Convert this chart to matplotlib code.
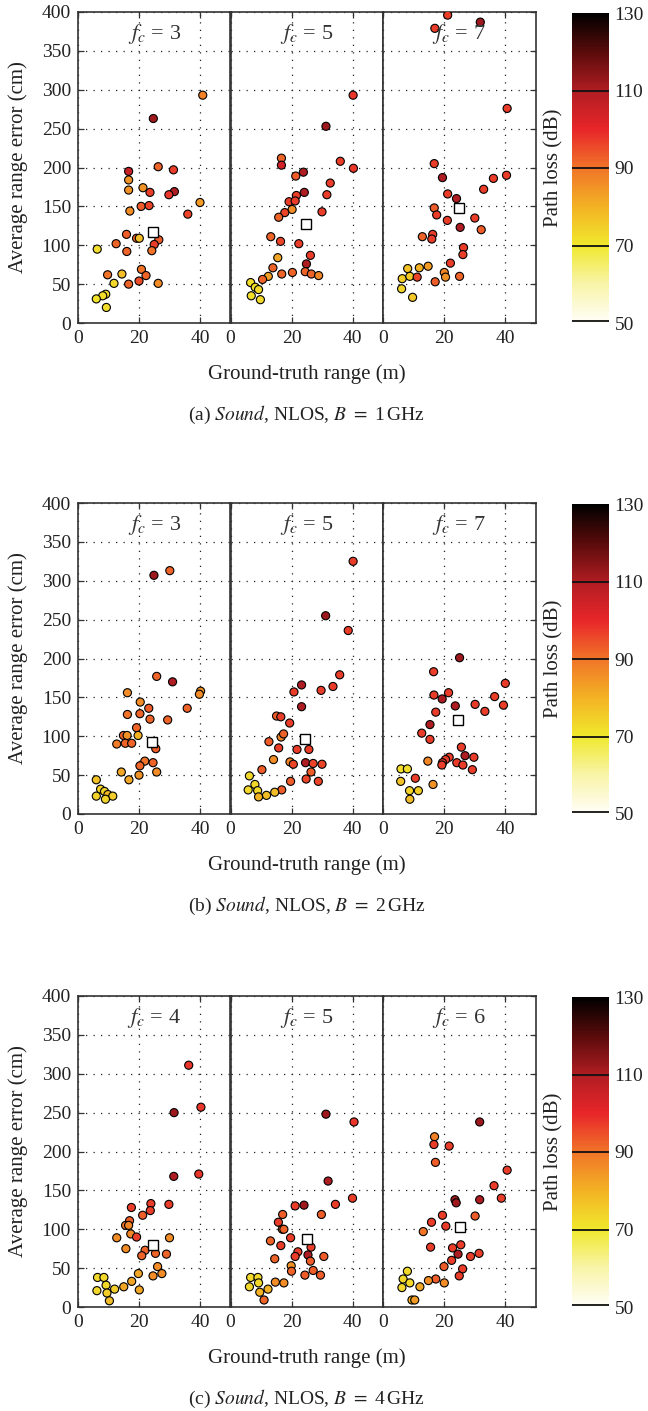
import matplotlib
matplotlib.use("Agg")
import matplotlib.pyplot as plt
from matplotlib.colors import LinearSegmentedColormap, Normalize
from matplotlib.cm import ScalarMappable

plt.rcParams['font.family'] = ['Liberation Serif', 'DejaVu Serif']
plt.rcParams['mathtext.fontset'] = 'stix'

# ---- (a) B = 1 GHz ----
a3_x = [40.9, 24.7, 26.3, 31.3, 16.6, 16.6, 16.6, 21.3, 23.6, 31.6, 29.8, 40.0, 20.7, 23.3,
        17.0, 36.0, 15.9, 19.2, 20.1, 26.5, 25.0, 24.2, 12.5, 6.3, 16.0, 20.8, 22.3, 14.4,
        9.7, 11.8, 16.6, 20.0, 26.3, 9.1, 8.1, 6.0, 9.3]
a3_y = [293, 263, 201, 197, 195, 184, 171, 174, 168, 169, 165, 155, 150, 151,
        144, 140, 114, 109, 109, 107, 101, 93, 102, 95, 92, 69, 61, 63,
        62, 51, 50, 54, 51, 37, 35, 31, 20]
a3_pl = [88, 112, 92, 97, 106, 85, 85, 85, 97, 110, 98, 84, 93, 96,
         86, 96, 93, 92, 78, 93, 97, 90, 92, 72, 92, 90, 92, 78,
         90, 73, 92, 95, 86, 72, 72, 71, 72]

a5_x = [40.2, 31.3, 16.7, 16.7, 36.0, 40.3, 23.9, 21.4, 32.7, 24.2, 21.6, 31.6, 19.2, 21.2,
        20.2, 17.8, 15.8, 30.0, 13.2, 16.4, 22.4, 26.2, 15.5, 24.9, 13.9, 12.4, 10.5, 16.8,
        20.3, 24.5, 26.5, 28.9, 6.6, 8.1, 9.2, 6.8, 9.8]
a5_y = [293, 253, 212, 203, 208, 199, 194, 189, 180, 168, 164, 165, 156, 157,
        146, 142, 136, 143, 111, 105, 102, 87, 84, 76, 71, 60, 56, 63,
        65, 66, 63, 61, 52, 46, 43, 35, 30]
a5_pl = [98, 112, 92, 104, 97, 98, 110, 93, 97, 110, 97, 97, 97, 97,
         86, 96, 92, 97, 92, 96, 97, 97, 82, 110, 92, 83, 92, 92,
         92, 92, 92, 87, 72, 72, 73, 72, 73]

a7_x = [21.2, 31.9, 17.0, 40.7, 16.8, 19.5, 40.5, 36.2, 33.0, 21.2, 24.1, 16.8, 17.6, 21.1,
        30.1, 25.3, 32.2, 12.9, 16.3, 16.0, 26.4, 26.2, 22.1, 8.1, 11.9, 14.8, 6.3, 8.8,
        11.2, 20.1, 20.5, 17.1, 25.1, 6.1, 9.7]
a7_y = [396, 387, 379, 276, 205, 187, 190, 186, 172, 166, 160, 148, 139, 132,
        135, 123, 120, 111, 114, 108, 97, 88, 77, 70, 71, 73, 57, 60,
        59, 65, 59, 53, 60, 44, 33]
a7_pl = [97, 112, 97, 97, 97, 110, 97, 97, 97, 97, 110, 93, 97, 97,
         97, 110, 93, 92, 97, 97, 97, 97, 97, 77, 80, 84, 75, 75,
         96, 87, 85, 93, 92, 74, 76]

# ---- (b) B = 2 GHz ----
b3_x = [24.9, 30.1, 25.8, 31.0, 16.2, 40.2, 39.8, 20.4, 23.2, 35.8, 16.2, 20.3, 23.6, 29.4,
        19.2, 14.9, 16.1, 19.7, 12.7, 15.5, 17.6, 25.5, 21.9, 20.3, 24.6, 14.2, 25.8, 20.0,
        16.7, 6.0, 7.4, 8.7, 9.8, 11.4, 6.0, 9.0]
b3_y = [307, 313, 177, 170, 156, 158, 154, 144, 136, 136, 128, 129, 122, 121,
        111, 101, 101, 101, 90, 91, 91, 84, 68, 62, 66, 54, 54, 50,
        44, 44, 32, 29, 25, 23, 23, 19]
b3_pl = [112, 92, 92, 110, 86, 85, 86, 86, 93, 92, 90, 92, 92, 92,
         92, 92, 85, 80, 89, 92, 92, 93, 90, 92, 92, 82, 86, 85,
         82, 77, 74, 74, 79, 75, 74, 74]

b5_x = [40.2, 31.2, 38.6, 35.8, 23.3, 20.8, 29.7, 33.6, 23.3, 15.1, 16.5, 19.4, 12.6, 16.6,
        17.4, 15.8, 21.8, 25.7, 14.1, 19.5, 20.6, 24.6, 27.1, 30.0, 10.3, 26.4, 24.8, 19.7,
        28.8, 6.2, 8.0, 16.8, 8.9, 5.8, 14.5, 11.8, 9.2]
b5_y = [325, 255, 236, 179, 166, 157, 159, 164, 138, 126, 125, 117, 93, 99,
        103, 85, 83, 83, 70, 67, 64, 66, 65, 64, 57, 54, 45, 42,
        42, 49, 38, 31, 30, 31, 28, 24, 22]
b5_pl = [97, 112, 97, 97, 110, 97, 97, 97, 110, 93, 97, 97, 93, 87,
         92, 97, 97, 97, 86, 87, 96, 110, 96, 96, 93, 93, 96, 93,
         96, 73, 73, 93, 73, 73, 78, 78, 80]

b7_x = [25.1, 16.6, 40.1, 16.7, 21.5, 19.4, 36.6, 30.2, 39.5, 23.7, 17.3, 33.4, 15.4, 12.7,
        15.4, 25.7, 26.9, 29.8, 21.7, 20.5, 19.5, 19.3, 14.7, 24.2, 26.2, 29.3, 10.6, 5.9,
        8.0, 5.8, 16.4, 8.7, 11.6, 8.8]
b7_y = [201, 183, 168, 153, 156, 148, 151, 141, 140, 139, 131, 132, 115, 104,
        96, 86, 75, 73, 73, 70, 66, 63, 68, 66, 63, 57, 46, 58,
        58, 42, 38, 30, 30, 19]
b7_pl = [112, 97, 97, 97, 97, 110, 97, 97, 97, 110, 97, 97, 110, 97,
         97, 97, 110, 97, 97, 97, 97, 97, 87, 97, 97, 97, 97, 72,
         72, 77, 85, 74, 75, 78]

# ---- (c) B = 4 GHz ----
c4_x = [36.3, 40.3, 31.5, 31.4, 39.6, 23.9, 29.8, 17.5, 23.7, 21.2, 16.9, 15.6, 16.6, 17.3,
        19.2, 12.7, 30.0, 15.7, 22.0, 20.9, 25.4, 29.0, 26.1, 27.5, 24.6, 19.8, 17.6, 15.0,
        20.1, 6.4, 8.5, 9.2, 6.2, 9.5, 12.0, 10.3]
c4_y = [311, 257, 250, 168, 171, 133, 132, 128, 124, 118, 111, 105, 105, 94,
        90, 89, 89, 75, 73, 66, 69, 68, 52, 43, 40, 43, 33, 26,
        22, 38, 38, 28, 21, 18, 23, 8]
c4_pl = [98, 98, 112, 110, 98, 97, 97, 97, 97, 93, 93, 90, 87, 87,
         97, 86, 86, 86, 92, 92, 92, 92, 86, 86, 86, 82, 82, 82,
         82, 73, 73, 73, 73, 75, 75, 78]

c5_x = [31.3, 40.5, 32.0, 40.0, 34.4, 24.1, 21.2, 29.8, 17.1, 15.7, 17.0, 17.5, 13.1, 19.7,
        16.5, 26.4, 22.1, 25.4, 21.2, 30.6, 14.5, 26.2, 19.9, 20.0, 27.1, 29.5, 24.4, 14.7,
        17.5, 6.6, 9.0, 9.2, 6.2, 12.3, 9.6, 11.0]
c5_y = [248, 238, 162, 140, 132, 131, 130, 119, 119, 109, 100, 100, 85, 89,
        79, 77, 71, 67, 65, 65, 62, 59, 53, 46, 47, 41, 41, 32,
        31, 38, 38, 31, 26, 23, 19, 9]
c5_pl = [112, 98, 110, 97, 97, 112, 97, 93, 93, 97, 87, 92, 92, 97,
         97, 97, 97, 110, 97, 93, 92, 93, 85, 92, 93, 93, 93, 86,
         86, 73, 73, 73, 73, 80, 80, 92]

c6_x = [31.7, 16.9, 16.7, 21.7, 17.2, 40.7, 36.4, 38.8, 31.7, 23.6, 24.0, 30.2, 19.5, 15.9,
        20.6, 13.2, 15.6, 22.8, 25.5, 24.6, 28.7, 31.5, 22.5, 26.1, 20.0, 25.0, 17.3, 14.9,
        20.1, 12.1, 8.0, 6.6, 8.8, 6.2, 9.5, 10.4]
c6_y = [238, 219, 209, 207, 186, 176, 156, 140, 138, 138, 134, 117, 118, 109,
        104, 97, 77, 76, 80, 68, 65, 69, 60, 49, 52, 40, 36, 34,
        31, 26, 46, 36, 31, 25, 9, 9]
c6_pl = [112, 88, 97, 97, 93, 97, 97, 97, 110, 112, 112, 93, 97, 97,
         97, 90, 97, 97, 97, 110, 97, 97, 97, 97, 93, 97, 93, 86,
         86, 82, 73, 73, 73, 73, 80, 84]

# mean markers (white squares), one per panel
sq_a_x = [24.7, 24.8, 25.0]
sq_a_y = [117, 127, 148]
sq_b_x = [24.4, 24.4, 24.5]
sq_b_y = [93, 96, 121]
sq_c_x = [24.6, 25.1, 25.1]
sq_c_y = [80, 88, 103]

fc_labels = [["3", "5", "7"], ["3", "5", "7"], ["4", "5", "6"]]
captions = ["(a)", "(b)", "(c)"]
bandwidths = ["1", "2", "4"]

rows = [
    [(a3_x, a3_y, a3_pl), (a5_x, a5_y, a5_pl), (a7_x, a7_y, a7_pl)],
    [(b3_x, b3_y, b3_pl), (b5_x, b5_y, b5_pl), (b7_x, b7_y, b7_pl)],
    [(c4_x, c4_y, c4_pl), (c5_x, c5_y, c5_pl), (c6_x, c6_y, c6_pl)],
]
squares = [(sq_a_x, sq_a_y), (sq_b_x, sq_b_y), (sq_c_x, sq_c_y)]

# colormap: white -> yellow -> orange -> red -> black
cmap = LinearSegmentedColormap.from_list("pathloss", [
    (0.000, "#fffef8"), (0.125, "#f8f4a8"), (0.250, "#f0e82c"), (0.375, "#f3b224"),
    (0.500, "#f07428"), (0.625, "#e8262a"), (0.750, "#b01d22"), (0.875, "#5a0b0b"),
    (1.000, "#000000")])
norm = Normalize(50, 130)

W, H = 648, 1411
fig = plt.figure(figsize=(W / 100, H / 100), dpi=100)


def rect(l, t, w, h):
    return [l / W, 1 - (t + h) / H, w / W, h / H]


row_tops = [12, 503, 996]
panel_h = 311
panel_w = 152.5
panel_left = [78, 230.5, 383]
spine_c = "#333333"
txt_c = "#222222"

for r, top in enumerate(row_tops):
    for j in range(3):
        ax = fig.add_axes(rect(panel_left[j], top, panel_w, panel_h))
        x, y, pl = rows[r][j]
        ax.scatter(x, y, c=pl, cmap=cmap, norm=norm, s=34, edgecolors="black",
                   linewidths=0.8, zorder=3)
        ax.plot(squares[r][0][j], squares[r][1][j], marker="s", ms=6.5, mfc="white",
                mec="black", mew=1.0, zorder=4)
        ax.set_xlim(0, 50)
        ax.set_ylim(0, 400)
        ax.set_xticks([0, 20, 40])
        ax.set_yticks(range(0, 401, 50))
        ax.grid(True, linestyle=(0, (1, 5)), color="#222222", linewidth=0.9)
        ax.set_axisbelow(True)
        for s in ax.spines.values():
            s.set_color(spine_c)
            s.set_linewidth(1.2)
        ax.tick_params(direction="in", length=4, width=0.9, color=spine_c,
                       labelsize=14, labelcolor=txt_c, pad=5, top=True, bottom=True,
                       left=(j == 0), right=(j == 2), labelleft=(j == 0))
        ax.text(0.5, 0.93, r"$f_c$ = " + fc_labels[r][j], transform=ax.transAxes,
                ha="center", va="center", fontsize=16, color="#333333")

    # colorbar
    cax = fig.add_axes(rect(572, top + 1, 37, panel_h - 1))
    cb = fig.colorbar(ScalarMappable(norm=norm, cmap=cmap), cax=cax)
    cb.outline.set_visible(False)
    cb.set_ticks([50, 70, 90, 110, 130])
    cax.tick_params(length=0, labelsize=14, labelcolor=txt_c, pad=4)
    for v in [50.4, 70, 90, 110]:
        cax.axhline(v, color="#111111", lw=1.3)
    cb.set_label("Path loss (dB)", fontsize=15, labelpad=6, color=txt_c)
    cax.yaxis.set_label_position("left")

    cy = 1 - (top + panel_h / 2) / H
    fig.text(18 / W, cy, "Average range error (cm)", rotation=90, ha="center",
             va="center", fontsize=15, color=txt_c)
    bottom = top + panel_h
    fig.text((78 + 535.5) / 2 / W, 1 - (bottom + 51) / H, "Ground-truth range (m)",
             ha="center", va="center", fontsize=15, color=txt_c)
    fig.text((78 + 535.5) / 2 / W, 1 - (bottom + 92) / H,
             captions[r] + r" $\mathit{Sound}$, NLOS, $\mathit{B}$ $=$ " + bandwidths[r] + r"$\,$GHz",
             ha="center", va="center", fontsize=14, color=txt_c)

fig.savefig("out.png", dpi=100)
